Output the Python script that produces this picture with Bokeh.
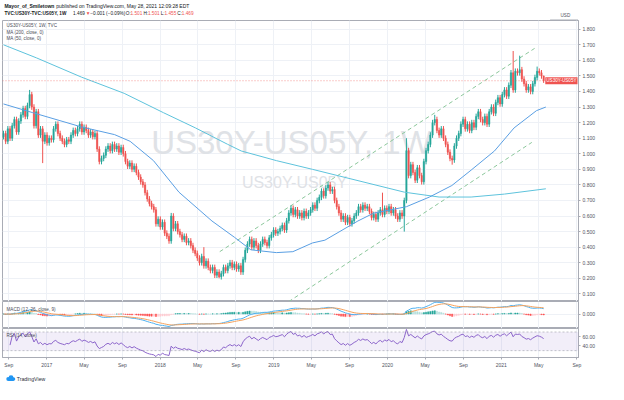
import pandas as pd
from bokeh.plotting import figure
from bokeh.layouts import column
from bokeh.models import (ColumnDataSource, Range1d, FixedTicker, PrintfTickFormatter,
                          Span, Label, BoxAnnotation)
from bokeh.embed import file_html
from bokeh.resources import INLINE
from bokeh.core.properties import value

FONT = "Liberation Sans"

# ---------------- data ----------------
START = pd.Timestamp("2016-08-15")   # first weekly bar
first_open = 1.11
closes = [
    1.13, 1.08, 1.16, 1.10, 1.18, 1.22, 1.14, 1.21, 1.25, 1.29, 1.24, 1.31, 1.38, 1.30,
    1.18, 1.27, 1.12, 1.16, 1.08, 1.12,
    1.07, 1.10, 1.09, 1.16, 1.19, 1.13, 1.10, 1.08, 1.06, 1.09, 1.08,
    1.12, 1.15, 1.13, 1.16, 1.19, 1.14, 1.17, 1.15, 1.12, 1.14, 1.11, 1.13,
    1.03, 0.95, 0.97, 0.99, 1.03,
    1.05, 1.02, 1.06, 1.03, 1.05, 1.01, 1.04, 1.00,
    0.95, 0.92, 0.94, 0.90, 0.92, 0.88, 0.85, 0.82, 0.80, 0.75, 0.71,
    0.68, 0.66, 0.64, 0.55, 0.58, 0.53, 0.56, 0.49, 0.47, 0.44, 0.60,
    0.52, 0.55, 0.50, 0.48, 0.45, 0.47, 0.43, 0.44,
    0.41, 0.38, 0.36, 0.33, 0.30, 0.34, 0.28, 0.31, 0.27,
    0.25, 0.27, 0.22, 0.24, 0.21, 0.23, 0.27, 0.25,
    0.28, 0.30, 0.27, 0.29, 0.26, 0.28, 0.24,
    0.32, 0.38, 0.42, 0.45, 0.40, 0.44, 0.41, 0.38, 0.42,
    0.45, 0.43, 0.41, 0.46, 0.48, 0.51, 0.49, 0.50, 0.52, 0.54, 0.51,
    0.57, 0.62, 0.65, 0.61, 0.64, 0.60, 0.62, 0.59, 0.63, 0.60, 0.62,
    0.64, 0.67, 0.65, 0.70, 0.72, 0.76, 0.73, 0.78, 0.80, 0.76,
    0.77, 0.70, 0.66, 0.62, 0.58, 0.60, 0.56, 0.59, 0.55, 0.57, 0.60,
    0.62, 0.66, 0.64, 0.67, 0.65, 0.66, 0.63, 0.59, 0.61, 0.58,
    0.62, 0.64, 0.61, 0.65, 0.63, 0.66, 0.62, 0.64, 0.60, 0.58, 0.62, 0.60,
    0.70, 1.02, 0.86, 0.93, 0.88, 0.83, 0.91, 0.86, 0.82,
    0.95, 1.02, 1.06, 1.12, 1.20, 1.22, 1.15, 1.12, 1.16, 1.10, 1.06,
    1.01, 0.97, 0.96, 1.05, 1.10, 1.13, 1.19, 1.22, 1.16,
    1.19, 1.15, 1.20, 1.17, 1.24, 1.27, 1.22, 1.20, 1.24, 1.19,
    1.27, 1.30, 1.26, 1.33, 1.36, 1.32, 1.38, 1.41, 1.37,
    1.44, 1.52, 1.41, 1.53, 1.52, 1.54, 1.48, 1.45,
    1.41, 1.43, 1.40, 1.45, 1.49, 1.53, 1.52, 1.50, 1.469,
]
high_overrides = {12: 1.41, 77: 0.62, 92: 0.40, 174: 0.75, 185: 1.10, 198: 1.25,
                  234: 1.66, 237: 1.63, 245: 1.56, 248: 1.501}
low_overrides = {18: 0.94, 99: 0.20, 184: 0.50, 206: 0.93, 248: 1.455}
WICK = 0.018

ma200_dates = ["2016-08-15", "2016-11-29", "2017-04-23", "2017-09-07", "2018-01-11",
               "2018-04-24", "2018-08-05", "2018-09-18", "2019-01-09", "2019-05-05",
               "2020-02-25", "2020-06-15", "2020-09-26", "2021-01-11", "2021-05-24"]
ma200_vals = [1.70, 1.616, 1.492, 1.388, 1.264, 1.166, 1.061, 1.018, 0.956, 0.900,
              0.753, 0.722, 0.722, 0.741, 0.775]

ma50_dates = ["2016-08-15", "2016-11-17", "2017-04-23", "2017-08-07", "2017-09-26",
              "2017-12-10", "2018-03-02", "2018-06-16", "2018-08-27", "2018-10-19",
              "2019-01-09", "2019-03-03", "2019-05-05", "2019-06-14", "2019-09-28",
              "2019-11-17", "2020-03-02", "2020-05-15", "2020-07-26", "2020-09-26",
              "2020-12-10", "2021-02-11", "2021-04-24", "2021-05-24"]
ma50_vals = [1.32, 1.264, 1.172, 1.123, 1.08, 0.956, 0.753, 0.568, 0.464, 0.383,
             0.365, 0.371, 0.427, 0.445, 0.568, 0.618, 0.66, 0.722, 0.796, 0.895,
             1.018, 1.166, 1.277, 1.30]

upper_channel_dates = ["2018-07-11", "2021-04-18"]
upper_channel_vals = [0.371, 1.677]
lower_channel_dates = ["2019-01-30", "2021-04-09"]
lower_channel_vals = [0.026, 1.073]

time_tick_dates = ["2016-09-01", "2017-01-01", "2017-05-01", "2017-09-01", "2018-01-01",
                   "2018-05-01", "2018-09-01", "2019-01-01", "2019-05-01", "2019-09-01",
                   "2020-01-01", "2020-05-01", "2020-09-01", "2021-01-01", "2021-05-01",
                   "2021-09-01"]
time_tick_labels = ["Sep", "2017", "May", "Sep", "2018", "May", "Sep", "2019", "May", "Sep",
                    "2020", "May", "Sep", "2021", "May", "Sep"]
price_ticks = [0.1, 0.2, 0.3, 0.4, 0.5, 0.6, 0.7, 0.8, 0.9, 1.0, 1.1, 1.2, 1.3, 1.4,
               1.5, 1.6, 1.7, 1.8]
last_price = 1.469

# ---------------- helpers ----------------
def widx(d):
    return (pd.Timestamp(d) - START).days / 7.0

UP, DOWN = "#26a69a", "#ef5350"
GRID = "#eef1f6"
BORDER = "#a9acb5"
TXT = "#131722"
AX = "#50535e"

xt = [widx(d) for d in time_tick_dates]
x_range = Range1d(-0.45, 264.0)

def pane(height, y_range, bottom=0):
    f = figure(width=608, height=height, x_range=x_range, y_range=y_range,
               output_backend="svg", toolbar_location=None, title=None,
               x_axis_location=("below" if bottom else None), y_axis_location="right",
               min_border_left=2, min_border_right=30, min_border_top=0,
               min_border_bottom=bottom)
    f.outline_line_color = BORDER
    f.background_fill_color = "white"
    f.xgrid.ticker = FixedTicker(ticks=xt)
    f.grid.grid_line_color = GRID
    f.yaxis.axis_line_color = BORDER
    f.yaxis.major_tick_line_color = BORDER
    f.yaxis.major_tick_in = 0
    f.yaxis.major_tick_out = 2
    f.yaxis.minor_tick_line_color = None
    f.yaxis.major_label_text_font = FONT
    f.yaxis.major_label_text_font_size = "5px"
    f.yaxis.major_label_text_color = AX
    f.yaxis.major_label_standoff = 2
    return f

def pane_label(f, text, x, y_from_top, fh, size="4.6px"):
    f.add_layout(Label(x=x, y=fh - y_from_top, x_units="screen", y_units="screen",
                       text=text, text_font=FONT, text_font_size=size, text_color="#4a4d57",
                       text_baseline="middle", level="overlay"))

# ---------------- header ----------------
CW = dict(zip("abcdefghijklmnopqrstuvwxyz",
              [556, 556, 500, 556, 556, 278, 556, 556, 222, 222, 500, 222, 833, 556, 556,
               556, 556, 333, 500, 278, 556, 500, 722, 500, 500, 500]))
CW.update(zip("ABCDEFGHIJKLMNOPQRSTUVWXYZ",
              [667, 667, 722, 722, 667, 611, 778, 722, 278, 500, 667, 556, 833, 722, 778,
               667, 778, 722, 667, 611, 722, 667, 944, 667, 667, 611]))
CW.update({d: 556 for d in "0123456789"})
CW.update({" ": 278, ",": 278, ".": 278, ":": 278, "-": 333, "_": 556, "(": 333, ")": 333,
           "%": 889, "\u2212": 584, "\u25bc": 700})

def tw(s, size, bold=False):
    w = sum(CW.get(ch, 556) for ch in s) / 1000.0 * size
    return w * 1.14 if bold else w * 1.03

def runs(f, items, x0, y, size):
    x = x0
    for txt, color, bold in items:
        f.text(x=[x], y=[y], text=[txt.replace(" ", "\u00a0")], text_color=color,
               text_font=value(FONT), text_font_size=f"{size}px",
               text_font_style=("bold" if bold else "normal"),
               text_baseline="middle", text_align="left")
        x += tw(txt, size, bold)

def blank(height):
    f = figure(width=608, height=height, x_range=Range1d(0, 608), y_range=Range1d(height, 0),
               output_backend="svg", toolbar_location=None, title=None,
               x_axis_location=None, y_axis_location=None, min_border=0)
    f.outline_line_color = None
    f.grid.visible = False
    return f

header = blank(20)
runs(header, [("Mayor_of_Smiletown", TXT, True),
              (" published on TradingView.com, May 28, 2021 12:09:28 EDT", TXT, False)],
     2, 5, 5)
runs(header, [("TVC:US30Y-TVC:US05Y, 1W", TXT, True), (" 1.469 ", TXT, False),
              ("\u25bc", DOWN, False), (" \u22120.001 (\u22120.09%) ", TXT, False),
              ("O:", TXT, False), ("1.501", DOWN, False), (" H:", TXT, False),
              ("1.501", DOWN, False), (" L:", TXT, False), ("1.455", DOWN, False),
              (" C:", TXT, False), ("1.469", DOWN, False)],
     2, 12.5, 4.7)
# top border of the chart area continues over the price scale, with the scale's currency
header.segment(x0=[578], y0=[19.5], x1=[607.5], y1=[19.5], line_color=BORDER, line_width=1)
runs(header, [("USD", AX, False)], 589, 15, 4.6)

# ---------------- main pane ----------------
MAIN_H = 281
main = pane(MAIN_H, Range1d(0.051, 1.856))
main.ygrid.ticker = FixedTicker(ticks=price_ticks)
main.yaxis.ticker = FixedTicker(ticks=price_ticks)
main.yaxis.formatter = PrintfTickFormatter(format="%.3f")

main.add_layout(Label(x=289, y=159, x_units="screen", y_units="screen", text="US30Y-US05Y, 1W",
                      text_font=FONT, text_font_size="33px", text_color="#dfe2e6",
                      text_align="center", text_baseline="middle", level="underlay"))
main.add_layout(Label(x=292, y=119, x_units="screen", y_units="screen", text="US30Y-US05Y",
                      text_font=FONT, text_font_size="16px", text_color="#dfe2e6",
                      text_align="center", text_baseline="middle", level="underlay"))

n = len(closes)
opens = [first_open] + closes[:-1]
highs = [high_overrides.get(i, max(o, c) + WICK) for i, (o, c) in enumerate(zip(opens, closes))]
lows = [low_overrides.get(i, min(o, c) - WICK) for i, (o, c) in enumerate(zip(opens, closes))]
csrc = ColumnDataSource(dict(
    x=list(range(n)), h=highs, l=lows,
    top=[max(o, c) for o, c in zip(opens, closes)],
    bot=[min(o, c) for o, c in zip(opens, closes)],
    color=[UP if c >= o else DOWN for o, c in zip(opens, closes)]))

main.line([widx(d) for d in upper_channel_dates], upper_channel_vals, line_color="#8cc79b",
          line_dash="4 3", line_width=1)
main.line([widx(d) for d in lower_channel_dates], lower_channel_vals, line_color="#8cc79b",
          line_dash="4 3", line_width=1)
main.add_layout(Span(location=last_price, dimension="width", line_color=DOWN,
                     line_dash="1 2", line_width=1, line_alpha=0.6))

main.segment(x0="x", y0="l", x1="x", y1="h", line_color="color", line_width=1, source=csrc)
main.vbar(x="x", width=0.62, top="top", bottom="bot", fill_color="color", line_color="color",
          line_width=0.5, source=csrc)

main.line([widx(d) for d in ma200_dates], ma200_vals, line_color="#5ec3dc", line_width=1)
main.line([widx(d) for d in ma50_dates], ma50_vals, line_color="#5a9fe3", line_width=1)

pane_label(main, "US30Y-US05Y, 1W, TVC", 4, 5, MAIN_H)
pane_label(main, "MA (200, close, 0)", 4, 11.5, MAIN_H)
pane_label(main, "MA (50, close, 0)", 4, 18, MAIN_H)

main.add_layout(Label(x=575, y=last_price, x_units="screen", y_units="data", text="US30Y-US05Y",
                      text_font=FONT, text_font_size="4.6px", text_color="white",
                      text_align="right", text_baseline="middle", background_fill_color=DOWN,
                      padding=1, level="overlay"))

# ---------------- indicators (from the closes) ----------------
c = pd.Series(closes, dtype=float)
macd = c.ewm(span=12, adjust=False).mean() - c.ewm(span=26, adjust=False).mean()
signal = macd.ewm(span=9, adjust=False).mean()
hist = macd - signal
delta = c.diff().fillna(0.0)
gain = delta.clip(lower=0).ewm(alpha=1 / 14, adjust=False).mean()
loss = (-delta.clip(upper=0)).ewm(alpha=1 / 14, adjust=False).mean()
rsi = 100 - 100 / (1 + gain / loss.replace(0, 1e-9))

m_lo = float(min(macd.min(), signal.min(), hist.min()))
m_hi = float(max(macd.max(), signal.max(), hist.max()))
R = max(abs(m_lo) * 14 / 15, abs(m_hi) * 14 / 13) * 1.06
MACD_H = 27
mp = pane(MACD_H, Range1d(-R * 15 / 14, R * 13 / 14))
mp.yaxis.ticker = FixedTicker(ticks=[0.0])
mp.ygrid.ticker = FixedTicker(ticks=[0.0])
mp.yaxis.formatter = PrintfTickFormatter(format="%.3f")
hcol = []
prev = 0.0
for hv in hist:
    if hv >= 0:
        hcol.append("#26a69a" if hv >= prev else "#b2dfdb")
    else:
        hcol.append("#ff5252" if hv < prev else "#ffcdd2")
    prev = hv
msrc = ColumnDataSource(dict(x=list(range(n)), h=list(hist), m=list(macd), s=list(signal),
                             color=hcol))
mp.vbar(x="x", width=0.6, top="h", bottom=0, fill_color="color", line_color="color",
        line_width=0.5, source=msrc)
mp.line("x", "m", line_color="#4fb0f0", line_width=1, source=msrc)
mp.line("x", "s", line_color="#f5a25d", line_width=1, source=msrc)
pane_label(mp, "MACD (12, 26, close, 9)", 4, 8, MACD_H)

RSI_FH = 29
r_start = 3
r_vals = list(rsi)[r_start:]
r_lo = min(min(r_vals) - 2.0, 28.0)
r_hi = max(max(r_vals) + 2.0, 72.0)
rp = pane(RSI_FH + 15, Range1d(r_lo, r_hi), bottom=15)
rp.yaxis.ticker = FixedTicker(ticks=[40, 60])
rp.ygrid.ticker = FixedTicker(ticks=[])
rp.yaxis.formatter = PrintfTickFormatter(format="%.2f")
rp.add_layout(BoxAnnotation(bottom=30, top=70, fill_color="#7e57c2", fill_alpha=0.1,
                            line_color=None))
for lv in (30, 70):
    rp.add_layout(Span(location=lv, dimension="width", line_color="#9a9ca5",
                       line_dash="2 2", line_width=1, line_alpha=0.6))
rp.line(list(range(r_start, n)), r_vals, line_color="#8e67cc", line_width=1)
pane_label(rp, "RSI (14, close)", 4, 7, RSI_FH)

rp.xaxis.ticker = FixedTicker(ticks=xt)
rp.xaxis.major_label_overrides = {t: lab for t, lab in zip(xt, time_tick_labels)}
rp.xaxis.major_label_text_font = FONT
rp.xaxis.major_label_text_font_size = "5px"
rp.xaxis.major_label_text_color = AX
rp.xaxis.axis_line_color = BORDER
rp.xaxis.major_tick_line_color = BORDER
rp.xaxis.major_tick_in = 0
rp.xaxis.major_tick_out = 2
rp.xaxis.minor_tick_line_color = None
rp.xaxis.major_label_standoff = 2

# ---------------- footer ----------------
footer = blank(12)
footer.circle(x=[6, 9, 11.6], y=[6.5, 5.2, 6.6], radius=[2.0, 2.6, 1.9], fill_color="#2196f3",
              line_color=None)
footer.rect(x=[8.8], y=[7.3], width=[5.5], height=[2.2], fill_color="#2196f3", line_color=None)
runs(footer, [("TradingView", "#2a2e39", False)], 15, 6, 5.2)

layout = column(header, main, mp, rp, footer)
open("out.html", "w").write(file_html(layout, INLINE))
